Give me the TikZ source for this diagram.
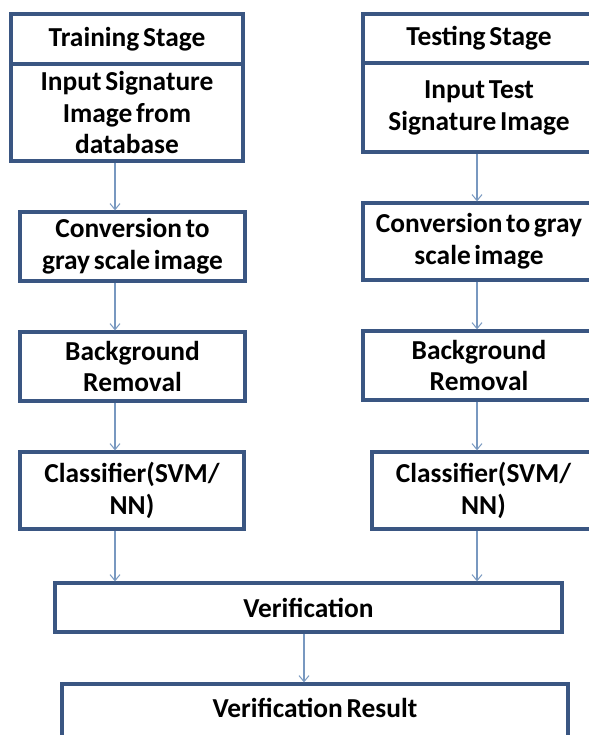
\documentclass[tikz,border=0pt]{standalone}
\usepackage{fontspec}
\setmainfont{Carlito}[WordSpace=0.6]
\usetikzlibrary{arrows.meta}
\definecolor{boxline}{RGB}{58,86,130}
\definecolor{arrline}{RGB}{120,152,192}
\tikzset{
  box/.style={draw=boxline, line width=3.3bp, fill=white, rectangle, inner sep=0pt,
    align=center, font=\fontsize{27.5}{32}\selectfont\bfseries},
  flow/.style={draw=arrline, line width=1.1bp, -{Straight Barb[length=6bp,width=10bp,line width=1bp]}}
}
\begin{document}
\begin{tikzpicture}[x=1bp,y=-1bp]
\useasboundingbox[fill=white] (0,0) rectangle (589,735);
% training column
\node[box, minimum width=232bp, minimum height=50bp] (trs) at (127,39) {Training Stage};
\node[box, minimum width=232bp, minimum height=97bp] (tri) at (127,112.5) {Input Signature\\Image from\\database};
\node[box, minimum width=225bp, minimum height=69bp] (tr1) at (132.5,246.5) {Conversion to\\gray scale image};
\node[box, minimum width=225bp, minimum height=69bp] (tr2) at (132.5,366.5) {Background\\Removal};
\node[box, minimum width=224bp, minimum height=77bp] (tr3) at (132,490.5) {Classifier(SVM/\\NN)};
% testing column
\node[box, minimum width=232bp, minimum height=49bp] (tes) at (479,38.5) {Testing Stage};
\node[box, minimum width=232bp, minimum height=89bp] (tei) at (479,107.5) {Input Test\\Signature Image};
\node[box, minimum width=232bp, minimum height=77bp] (te1) at (479,241.5) {Conversion to gray\\scale image};
\node[box, minimum width=232bp, minimum height=69bp] (te2) at (479,365.5) {Background\\Removal};
\node[box, minimum width=223bp, minimum height=77bp] (te3) at (483.5,490.5) {Classifier(SVM/\\NN)};
% bottom
\node[box, minimum width=507bp, minimum height=49bp] (ver) at (308.5,607.5) {Verification};
\node[box, minimum width=506bp, minimum height=56bp, text height=0pt, text depth=0pt] (res) at (315,712) {};
\node[font=\fontsize{27.5}{32}\selectfont\bfseries, inner sep=0pt] (restext) at (315,708) {Verification Result};
% column coordinates
\coordinate (cl) at (115,0);
\coordinate (cr) at (477,0);
\coordinate (cm) at (304,0);
% connectors
\draw[flow] (tri.south -| cl) -- (tr1.north -| cl);
\draw[flow] (tr1.south -| cl) -- (tr2.north -| cl);
\draw[flow] (tr2.south -| cl) -- (tr3.north -| cl);
\draw[flow] (tr3.south -| cl) -- (ver.north -| cl);
\draw[flow] (tei.south -| cr) -- (te1.north -| cr);
\draw[flow] (te1.south -| cr) -- (te2.north -| cr);
\draw[flow] (te2.south -| cr) -- (te3.north -| cr);
\draw[flow] (te3.south -| cr) -- (ver.north -| cr);
\draw[flow] (ver.south -| cm) -- (res.north -| cm);
\end{tikzpicture}
\end{document}
